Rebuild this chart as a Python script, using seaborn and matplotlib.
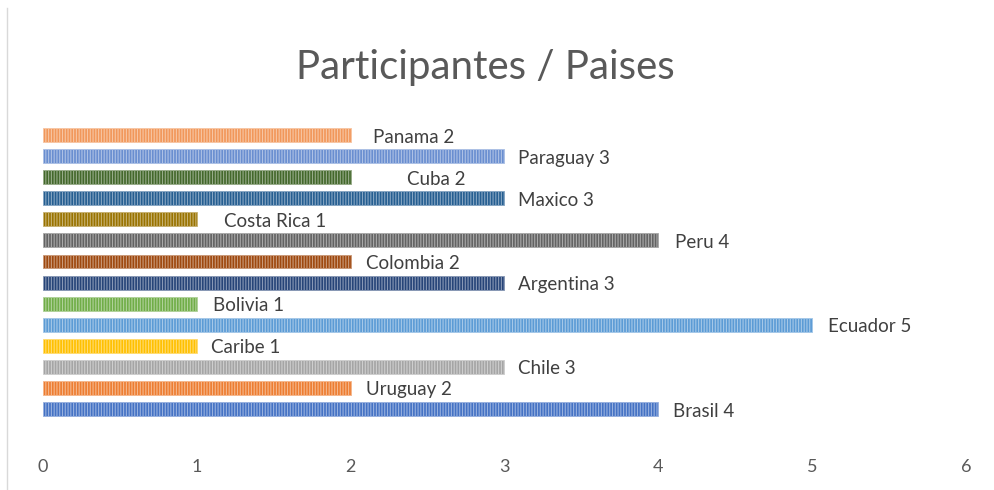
import numpy as np
import pandas as pd
import seaborn as sns
import matplotlib.pyplot as plt
from matplotlib.colors import to_rgb
from matplotlib.lines import Line2D

# data (top to bottom as drawn)
paises = ["Panama", "Paraguay", "Cuba", "Maxico", "Costa Rica", "Peru", "Colombia",
          "Argentina", "Bolivia", "Ecuador", "Caribe", "Chile", "Uruguay", "Brasil"]
participantes = [2, 3, 2, 3, 1, 4, 2, 3, 1, 5, 1, 3, 2, 4]
colores = ["#F1975A", "#698ED0", "#43682B", "#255E91", "#997300", "#636363", "#9E480E",
           "#264478", "#70AD47", "#5B9BD5", "#FFC000", "#A5A5A5", "#ED7D31", "#4472C4"]
# label gap from bar end, in pixels
label_gap = [22, 14, 56, 14, 27, 17, 15, 14, 16, 16, 14, 14, 15, 15]

df = pd.DataFrame({"pais": paises, "n": participantes})

plt.rcParams["hatch.linewidth"] = 0.8
fig = plt.figure(figsize=(9.95, 4.9), dpi=100)
ax = fig.add_axes([0.0432, 0.1308, 0.9276, 0.6194])

sns.barplot(data=df, x="n", y="pais", hue="pais", palette=colores, legend=False,
            orient="h", width=0.66, ax=ax)

def lighten(c, amt=0.45):
    r = np.array(to_rgb(c))
    return tuple(r + (1 - r) * amt)

for patch, c in zip(ax.patches, colores):
    patch.set_facecolor(c)
    patch.set_edgecolor(lighten(c))
    patch.set_hatch("|" * 6)
    patch.set_linewidth(0.6)

for i, (p, v) in enumerate(zip(paises, participantes)):
    ax.annotate(f"{p} {v}", xy=(v, i), xytext=(label_gap[i], -2),
                textcoords="offset pixels", ha="left", va="center",
                fontsize=13.5, color="#404040", family=["Lato", "DejaVu Sans"])

ax.set_xlim(0, 6)
ax.set_ylim(13.8, -0.6)
ax.set_xticks(range(7))
ax.set_yticks([])
ax.set_xlabel("")
ax.set_ylabel("")
for s in ax.spines.values():
    s.set_visible(False)
ax.tick_params(axis="x", length=0, pad=24, labelsize=13, labelcolor="#595959")
for t in ax.get_xticklabels():
    t.set_family(["Lato", "DejaVu Sans"])

fig.text(0.4874, 0.862, "Participantes / Paises", ha="center", va="center",
         fontsize=29, color="#595959", family=["Lato", "DejaVu Sans"])

fig.add_artist(Line2D([7 / 995, 7 / 995], [0, 1 - 8 / 490], transform=fig.transFigure,
                      color="#D9D9D9", linewidth=1))

fig.savefig("out.png", dpi=100, facecolor="white")
